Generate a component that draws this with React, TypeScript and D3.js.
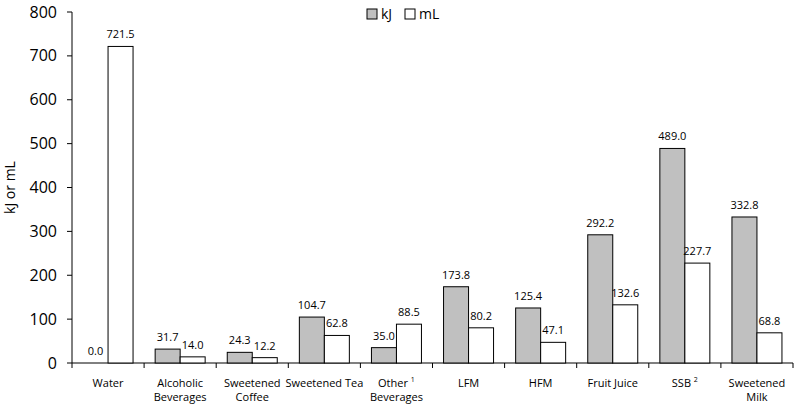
import React from "react";
import * as d3 from "d3";

const categories = [
  ["Water"],
  ["Alcoholic", "Beverages"],
  ["Sweetened", "Coffee"],
  ["Sweetened Tea"],
  ["Other ¹", "Beverages"],
  ["LFM"],
  ["HFM"],
  ["Fruit Juice"],
  ["SSB ²"],
  ["Sweetened", "Milk"],
];
const kJ = [0.0, 31.7, 24.3, 104.7, 35.0, 173.8, 125.4, 292.2, 489.0, 332.8];
const mL = [721.5, 14.0, 12.2, 62.8, 88.5, 80.2, 47.1, 132.6, 227.7, 68.8];
const yTicks = [0, 100, 200, 300, 400, 500, 600, 700, 800];

const W = 800, H = 407;
const left = 72, right = 793, top = 12, bottom = 363;
const font = "'Open Sans', 'Liberation Sans', sans-serif";

export default function App() {
  const x = d3.scaleBand<number>().domain(d3.range(categories.length)).range([left, right]);
  const y = d3.scaleLinear().domain([0, 800]).range([bottom, top]);
  const bw = 25;
  return (
    <svg width={W} height={H} style={{ position: "absolute", left: 0, top: 0 }} fontFamily={font}>
      <rect width={W} height={H} fill="#fff" />
      <line x1={left} x2={left} y1={top} y2={bottom} stroke="#000" />
      {yTicks.map((t) => (
        <g key={t}>
          <line x1={left - 5} x2={left} y1={y(t)} y2={y(t)} stroke="#000" />
          <text x={left - 15} y={y(t)} dy="0.35em" textAnchor="end" fontSize={16}>{t}</text>
        </g>
      ))}
      <text transform={`translate(15,${(top + bottom) / 2}) rotate(-90)`} textAnchor="middle" fontSize={14}>kJ or mL</text>
      <line x1={left} x2={right} y1={bottom} y2={bottom} stroke="#000" />
      {d3.range(categories.length + 1).map((i) => {
        const xx = left + i * x.bandwidth();
        return <line key={i} x1={xx} x2={xx} y1={bottom} y2={bottom + 5} stroke="#000" />;
      })}
      {categories.map((lines, i) => {
        const cx = (x(i) as number) + x.bandwidth() / 2;
        return (
          <g key={i}>
            {lines.map((l, j) => {
              const sup = l.match(/^(.*) ([¹²])$/);
              return (
                <text key={j} x={cx} y={bottom + 24 + j * 13.5} textAnchor="middle" fontSize={11}>
                  {sup ? (
                    <>
                      {sup[1] + " "}
                      <tspan fontSize={7} dy={-5}>{sup[2] === "¹" ? "1" : "2"}</tspan>
                    </>
                  ) : l}
                </text>
              );
            })}
            <rect x={cx - bw} y={y(kJ[i])} width={bw} height={bottom - y(kJ[i])} fill="#c0c0c0" stroke="#000" strokeWidth={1} />
            <rect x={cx} y={y(mL[i])} width={bw} height={bottom - y(mL[i])} fill="#fff" stroke="#000" strokeWidth={1} />
            <text x={cx - bw / 2} y={y(kJ[i]) - 8} textAnchor="middle" fontSize={11}>{kJ[i].toFixed(1)}</text>
            <text x={cx + bw / 2} y={y(mL[i]) - 8} textAnchor="middle" fontSize={11}>{mL[i].toFixed(1)}</text>
          </g>
        );
      })}
      <rect x={367} y={9} width={10} height={10} fill="#c0c0c0" stroke="#000" />
      <text x={381} y={14} dy="0.35em" fontSize={14}>kJ</text>
      <rect x={405} y={9} width={10} height={10} fill="#fff" stroke="#000" />
      <text x={419} y={14} dy="0.35em" fontSize={14}>mL</text>
    </svg>
  );
}
